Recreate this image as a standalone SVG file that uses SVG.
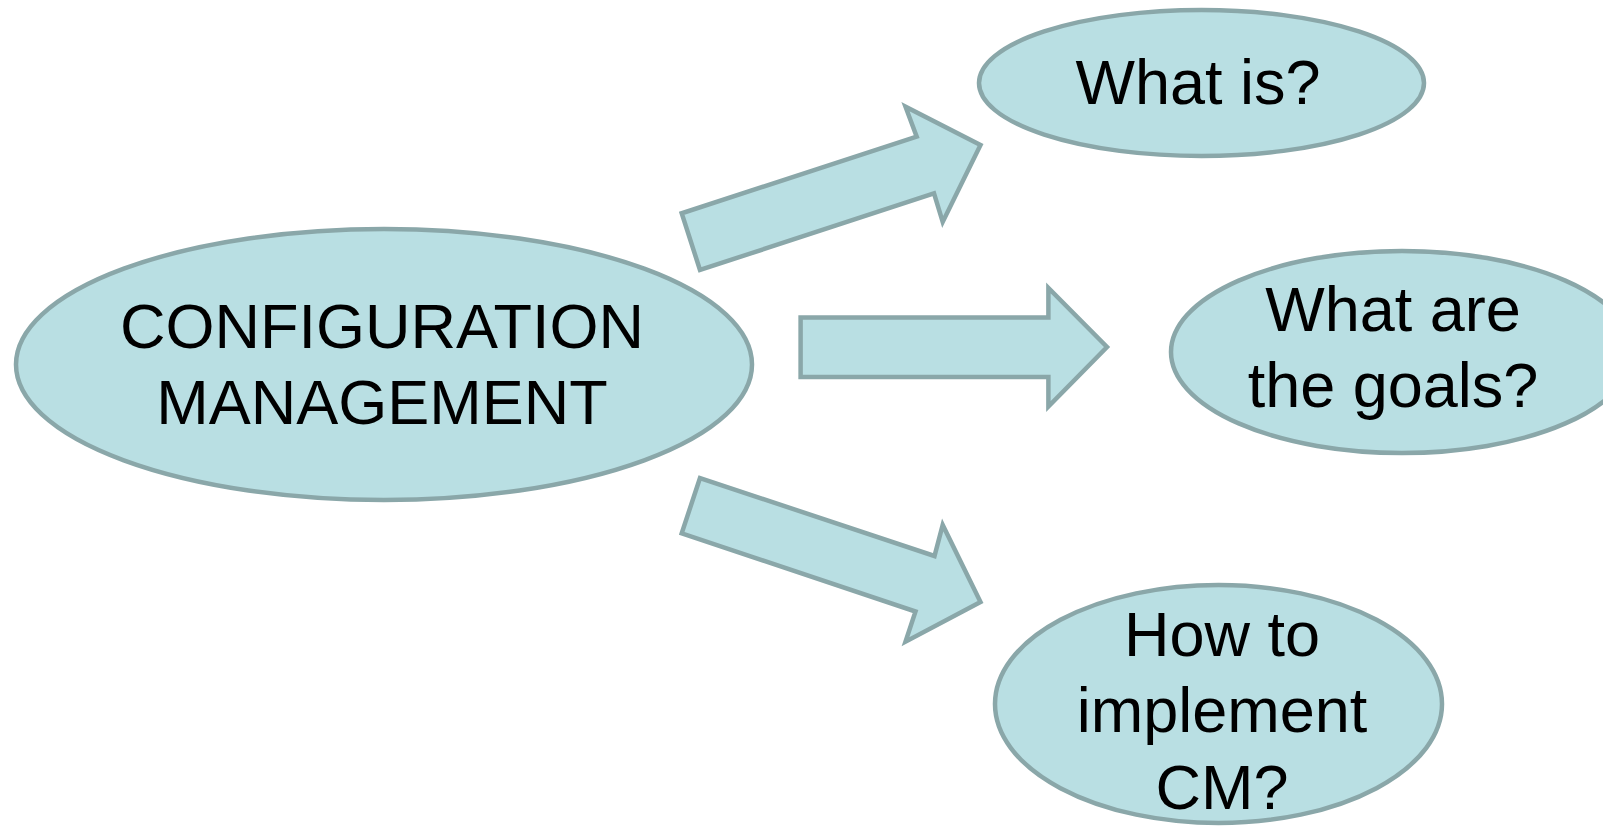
<svg xmlns="http://www.w3.org/2000/svg" width="1603" height="831" viewBox="0 0 1603 831">
<style>
.shape{fill:#B9DFE3;stroke:#8AA7A9;stroke-width:4.5;stroke-linejoin:miter}
.lbl{font-family:"Liberation Sans",Arial,sans-serif;font-size:63px;fill:#000;text-anchor:middle}
</style>
<rect width="1603" height="831" fill="#fff"/>
<g id="connectors">
<polygon class="shape" points="700,270 681.7,213.3 916.7,136.7 905.5,106.7 980.5,145 942.7,222 934,193.3"/>
<polygon class="shape" points="800.6,317.5 1048.4,317.5 1048.4,288 1107,347 1048.4,406.5 1048.4,377 800.6,377"/>
<polygon class="shape" points="700,478 681.7,533.3 915.5,611.5 905.5,641.7 980.5,602 942.7,525 934.5,556"/>
</g>
<g id="node-cm">
<ellipse class="shape" cx="384" cy="364.5" rx="368" ry="135.5"/>
<text class="lbl" x="382" y="348">CONFIGURATION</text>
<text class="lbl" x="382" y="424">MANAGEMENT</text>
</g>
<g id="node-what-is">
<ellipse class="shape" cx="1201.5" cy="83" rx="222.5" ry="73"/>
<text class="lbl" x="1198" y="104">What is?</text>
</g>
<g id="node-goals">
<ellipse class="shape" cx="1402" cy="352" rx="231" ry="101"/>
<text class="lbl" x="1393" y="331">What are</text>
<text class="lbl" x="1393" y="407">the goals?</text>
</g>
<g id="node-implement">
<ellipse class="shape" cx="1218.5" cy="704" rx="223.5" ry="119"/>
<text class="lbl" x="1222" y="656">How to</text>
<text class="lbl" x="1222" y="732">implement</text>
<text class="lbl" x="1222" y="809">CM?</text>
</g>
</svg>
